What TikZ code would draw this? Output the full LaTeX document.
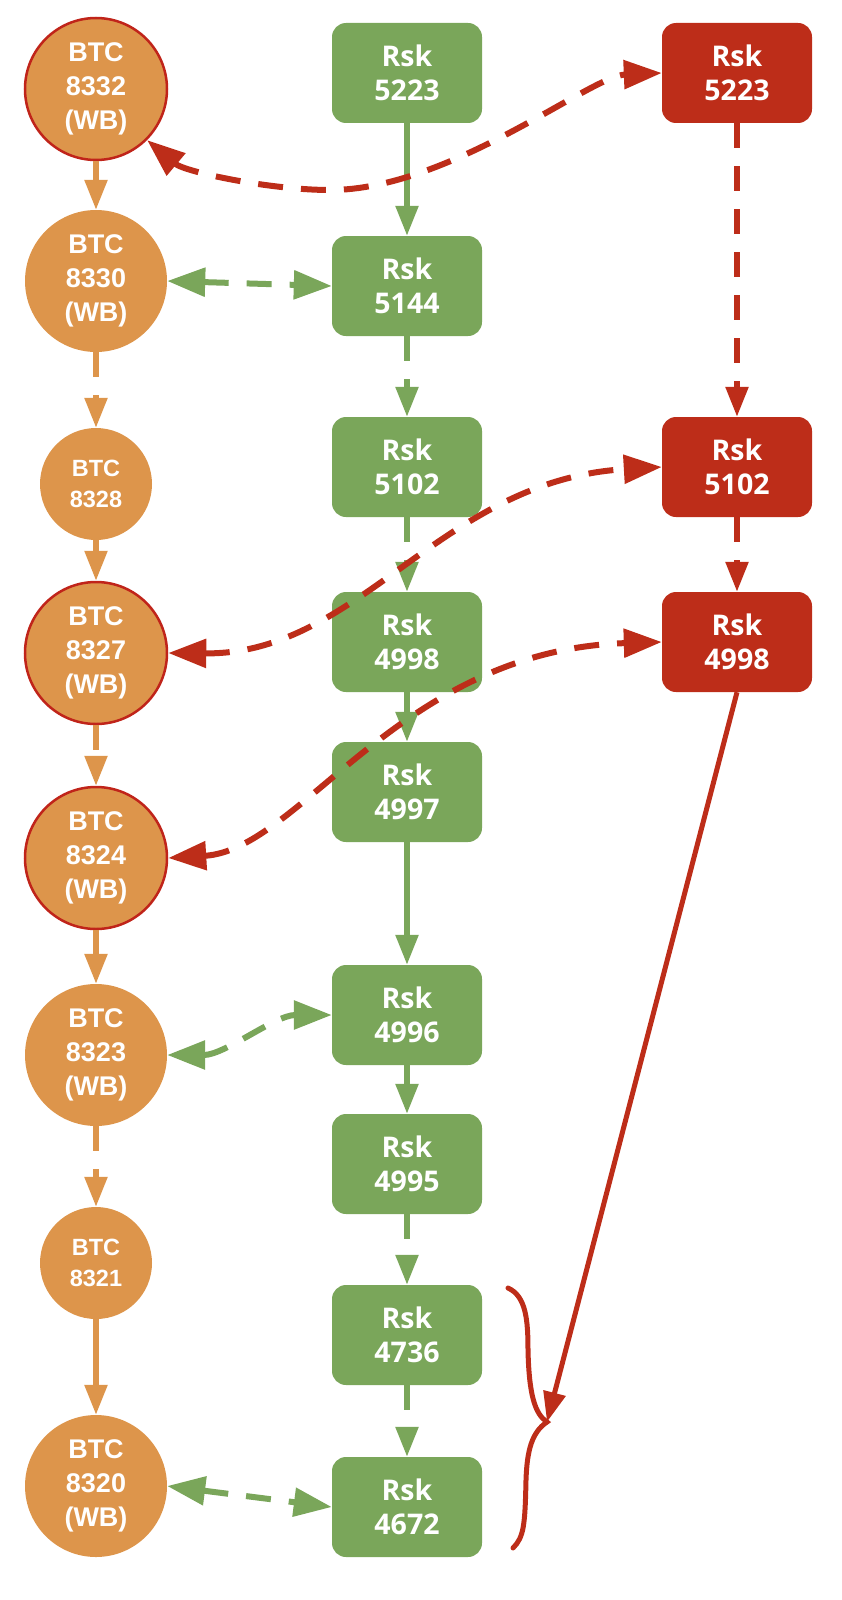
\documentclass[tikz,border=0pt]{standalone}
\usepackage{fontspec}
\newfontfamily\rskfont{Open Sans}
\newfontfamily\btcfont{Liberation Sans}
\usetikzlibrary{arrows.meta}
\definecolor{btcorange}{RGB}{221,149,75}
\definecolor{rskgreen}{RGB}{122,166,90}
\definecolor{forkred}{RGB}{189,45,25}
\definecolor{wbred}{RGB}{192,36,26}
\tikzset{
    btc/.style={circle, fill=btcorange, text=white, minimum size=142pt, inner sep=0pt, align=center, font=\btcfont\bfseries\fontsize{27}{34}\selectfont},
    btcwb/.style={btc, draw=wbred, line width=2.5pt},
    btcsmall/.style={btc, minimum size=112pt, font=\btcfont\bfseries\fontsize{23.5}{31}\selectfont},
    rsk/.style={rectangle, rounded corners=14pt, fill=rskgreen, text=white, minimum width=150pt, minimum height=100pt, inner sep=0pt, align=center, font=\rskfont\bfseries\fontsize{28.5}{34}\selectfont},
    rskfork/.style={rsk, fill=forkred},
    nextblock/.style={line width=5.5pt, -{Triangle[length=30pt,width=22pt]}},
    pegline/.style={line width=6pt, {Triangle[length=38pt,width=28pt]}-{Triangle[length=38pt,width=28pt]}},
    broken/.style={dash pattern=on 25pt off 18pt},
}

\begin{document}
\begin{tikzpicture}[x=1pt, y=-1pt]
            \useasboundingbox (0,0) rectangle (841,1600);
            % bitcoin chain
            \node[btcwb] (c8332) at (96,89) {BTC\\8332\\(WB)};
            \node[btc] (c8330) at (96,281) {BTC\\8330\\(WB)};
            \node[btcsmall] (c8328) at (96,484) {BTC\\8328};
            \node[btcwb] (c8327) at (96,653) {BTC\\8327\\(WB)};
            \node[btcwb] (c8324) at (96,858) {BTC\\8324\\(WB)};
            \node[btc] (c8323) at (96,1055) {BTC\\8323\\(WB)};
            \node[btcsmall] (c8321) at (96,1263) {BTC\\8321};
            \node[btc] (c8320) at (96,1486) {BTC\\8320\\(WB)};
            % rsk chain
            \node[rsk] (g5223) at (407,73) {Rsk\\5223};
            \node[rsk] (g5144) at (407,286) {Rsk\\5144};
            \node[rsk] (g5102) at (407,467) {Rsk\\5102};
            \node[rsk] (g4998) at (407,642) {Rsk\\4998};
            \node[rsk] (g4997) at (407,792) {Rsk\\4997};
            \node[rsk] (g4996) at (407,1015) {Rsk\\4996};
            \node[rsk] (g4995) at (407,1164) {Rsk\\4995};
            \node[rsk] (g4736) at (407,1335) {Rsk\\4736};
            \node[rsk] (g4672) at (407,1507) {Rsk\\4672};
            % fork
            \node[rskfork] (r5223) at (737,73) {Rsk\\5223};
            \node[rskfork] (r5102) at (737,467) {Rsk\\5102};
            \node[rskfork] (r4998) at (737,642) {Rsk\\4998};
            \coordinate (tip) at (547,1422);

            \draw[btcorange, nextblock] (c8332) -- (c8330);
            \draw[btcorange, nextblock, broken] (c8330) -- (c8328);
            \draw[btcorange, nextblock] (c8328) -- (c8327);
            \draw[btcorange, nextblock, broken] (c8327) -- (c8324);
            \draw[btcorange, nextblock] (c8324) -- (c8323);
            \draw[btcorange, nextblock, broken] (c8323) -- (c8321);
            \draw[btcorange, nextblock] (c8321) -- (c8320);

            \draw[rskgreen, nextblock] (g5223) -- (g5144);
            \draw[rskgreen, nextblock, broken] (g5144) -- (g5102);
            \draw[rskgreen, nextblock, broken] (g5102) -- (g4998);
            \draw[rskgreen, nextblock] (g4998) -- (g4997);
            \draw[rskgreen, nextblock] (g4997) -- (g4996);
            \draw[rskgreen, nextblock] (g4996) -- (g4995);
            \draw[rskgreen, nextblock, broken] (g4995) -- (g4736);
            \draw[rskgreen, nextblock, broken] (g4736) -- (g4672);

            \draw[forkred, nextblock, broken] (r5223) -- (r5102);
            \draw[forkred, nextblock, broken] (r5102) -- (r4998);

            \draw[rskgreen, pegline, broken] (c8330.east) -- (g5144.west);
            \draw[rskgreen, pegline, broken] (c8323.east) .. controls (225,1055) and (275,1015) .. (g4996.west);
            \draw[rskgreen, pegline, broken] (c8320.east) -- (g4672.west);

            \draw[forkred, pegline, broken] (c8332.-45) .. controls (185,172) and (270,190) .. (330,190) .. controls (450,190) and (590,76) .. (r5223.west);
            \draw[forkred, pegline, broken] (c8327.east) .. controls (360,655) and (440,480) .. (r5102.west);
            \draw[forkred, pegline, broken] (c8324.east) .. controls (300,850) and (400,650) .. (r4998.west);

            \draw[forkred, line width=5pt, line cap=round] (508,1288) .. controls (526,1296) and (528,1320) .. (528,1350) .. controls (529,1395) and (535,1414) .. (tip) .. controls (532,1432) and (527,1450) .. (526,1480) .. controls (525,1525) and (524,1537) .. (513,1548);
            \draw[forkred, line width=5pt, -{Triangle[length=30pt,width=22pt]}] (r4998.south) -- (tip);
        \end{tikzpicture}
\end{document}
